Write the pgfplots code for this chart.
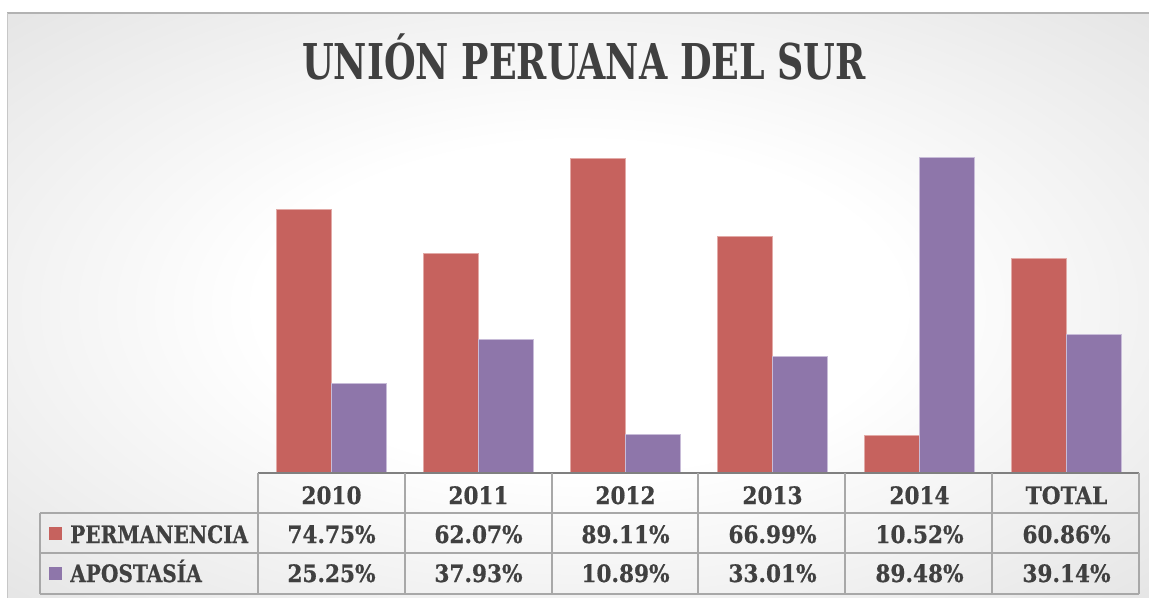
\documentclass[border=0pt]{standalone}
\usepackage{fontspec}
\usepackage{pgfplots}
\pgfplotsset{compat=1.18}
\newfontfamily\tabfont{DejaVu Serif Condensed}[FakeBold=0.6]
\newfontfamily\titlefont{DejaVu Serif Condensed}
\definecolor{perm}{HTML}{C6625E}
\definecolor{permedge}{HTML}{E2AAA7}
\definecolor{apos}{HTML}{8E76AA}
\definecolor{aposedge}{HTML}{C8BCD8}
\definecolor{txt}{HTML}{404040}
\definecolor{grid}{HTML}{A8A8A8}
\pgfdeclareradialshading{bgshade}{\pgfpoint{0bp}{0bp}}{color(0bp)=(white); color(14bp)=(white); color(50bp)=(black!17); color(71bp)=(black!24); color(100bp)=(black!24)}

\begin{document}
\begin{tikzpicture}[x=0.75pt,y=-0.75pt]
\useasboundingbox (0,0) rectangle (1149,598);
% background
\fill[white] (-2,-2) rectangle (1152,601);
\shade[shading=bgshade] (7,13) rectangle (1152,601);
\draw[black!30, line width=0.8pt] (7,13) -- (1152,13);
\draw[black!22, line width=0.6pt] (7,13) -- (7,601);

% title
\node[anchor=base, text=txt, font=\titlefont\bfseries\fontsize{37}{40}\selectfont]
  at (584,80) {\scalebox{0.82}[1]{UNIÓN PERUANA DEL SUR}};

\begin{axis}[
  at={(193.5pt,-354.75pt)}, anchor=south west,
  scale only axis, width=661.5pt, height=264.75pt,
  xmin=-0.5, xmax=5.5, ymin=0, ymax=100,
  hide axis, clip=false,
  ybar, bar width=0.374,
]
\addplot[fill=perm, draw=permedge, line width=0.6pt, bar shift=-0.187] coordinates {
  (0,74.75) (1,62.07) (2,89.11) (3,66.99) (4,10.52) (5,60.86)
};
\addplot[fill=apos, draw=aposedge, line width=0.6pt, bar shift=0.187] coordinates {
  (0,25.25) (1,37.93) (2,10.89) (3,33.01) (4,89.48) (5,39.14)
};
\end{axis}

% data table
\draw[black!50, line width=1.4pt] (258,473) -- (1139,473);
\foreach \yy in {513,553,594} \draw[grid, line width=1.1pt] (40,\yy) -- (1139,\yy);
\foreach \xx in {258,405,552,698,845,992,1139} \draw[grid, line width=1.1pt] (\xx,473) -- (\xx,594);
\draw[grid, line width=1.1pt] (40,513) -- (40,594);

\tikzset{cell/.style={anchor=base, text=txt, font=\tabfont\bfseries\fontsize{18}{20}\selectfont}}
\foreach \xx/\lab in {331.5/2010, 478.5/2011, 625.5/2012, 772.5/2013, 919.5/2014, 1066.5/TOTAL}
  \node[cell] at (\xx,504) {\lab};
\foreach \xx/\lab in {331.5/74.75, 478.5/62.07, 625.5/89.11, 772.5/66.99, 919.5/10.52, 1066.5/60.86}
  \node[cell] at (\xx,543) {\lab\%};
\foreach \xx/\lab in {331.5/25.25, 478.5/37.93, 625.5/10.89, 772.5/33.01, 919.5/89.48, 1066.5/39.14}
  \node[cell] at (\xx,582) {\lab\%};

\fill[perm] (49,527) rectangle (62,540);
\fill[apos] (49,567) rectangle (62,580);
\node[cell, anchor=base west, inner sep=0pt] at (70,543) {\scalebox{0.93}[1]{PERMANENCIA}};
\node[cell, anchor=base west, inner sep=0pt] at (70,582) {\scalebox{0.93}[1]{APOSTASÍA}};
\end{tikzpicture}
\end{document}
